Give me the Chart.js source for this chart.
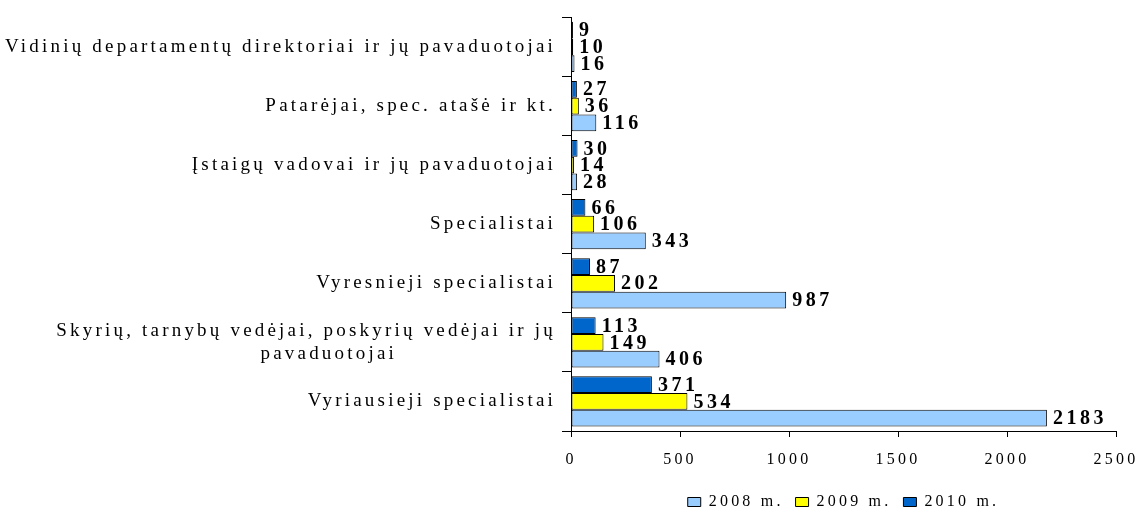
<!DOCTYPE html>
<html lang="lt">
<head>
<meta charset="UTF-8">
<title>Darbuotojai pagal pareigas</title>
<script src="https://cdn.jsdelivr.net/npm/chart.js"></script>
<style>
    html, body { margin: 0; padding: 0; background: #fff; }
    .wrap { width: 1142px; height: 510px; position: relative; }
</style>
</head>
<body>
<div class="wrap"><canvas id="grafikas"></canvas></div>
<script>
const kategorijos = [
    'Vidinių departamentų direktoriai ir jų pavaduotojai',
    'Patarėjai, spec. atašė ir kt.',
    'Įstaigų vadovai ir jų pavaduotojai',
    'Specialistai',
    'Vyresnieji specialistai',
    ['Skyrių, tarnybų vedėjai, poskyrių vedėjai ir jų', 'pavaduotojai'],
    'Vyriausieji specialistai'
];
const metai2008 = [16, 116, 28, 343, 987, 406, 2183];
const metai2009 = [10, 36, 14, 106, 202, 149, 534];
const metai2010 = [9, 27, 30, 66, 87, 113, 371];
const xMax = 2500;
const xZingsnis = 500;

const serif = '"Liberation Serif", "Times New Roman", serif';
Chart.defaults.font.family = serif;
Chart.defaults.color = '#000';

// tekstas originale gana "isretintas"
const tarpai = {
    id: 'tarpai',
    beforeUpdate(c) { c.ctx.letterSpacing = '3.2px'; },
    beforeDraw(c) { c.ctx.letterSpacing = '3.2px'; }
};

const reiksmes = {
    id: 'reiksmes',
    afterDatasetsDraw(c) {
        const ctx = c.ctx;
        ctx.save();
        ctx.font = 'bold 20px ' + serif;
        ctx.fillStyle = '#000';
        ctx.textAlign = 'left';
        ctx.textBaseline = 'middle';
        ctx.letterSpacing = '3.5px';
        c.data.datasets.forEach((ds, i) => {
            c.getDatasetMeta(i).data.forEach((el, j) => {
                ctx.fillText(String(ds.data[j]), el.x + 6, el.y + 1);
            });
        });
        ctx.restore();
    }
};

new Chart(document.getElementById('grafikas'), {
    type: 'bar',
    data: {
        labels: kategorijos,
        datasets: [
            { label: '2010 m.', data: metai2010, backgroundColor: '#0066CC' },
            { label: '2009 m.', data: metai2009, backgroundColor: '#FFFF00' },
            { label: '2008 m.', data: metai2008, backgroundColor: '#99CCFF' }
        ]
    },
    options: {
        indexAxis: 'y',
        responsive: true,
        maintainAspectRatio: false,
        animation: false,
        layout: { padding: { top: 15, right: 26, bottom: -10, left: 0 } },
        datasets: {
            bar: {
                borderColor: '#000',
                borderWidth: 1,
                borderSkipped: false,
                categoryPercentage: 0.85,
                barPercentage: 1
            }
        },
        scales: {
            y: {
                grid: { drawOnChartArea: false, tickLength: 9, color: '#000', offset: true },
                border: { color: '#000' },
                ticks: {
                    autoSkip: false,
                    padding: 6,
                    font: { size: 19 },
                    callback: function (v) {
                        const l = this.getLabelForValue(v);
                        if (Array.isArray(l)) {
                            // antra eilute centruojama po pirmaja
                            return [l[0], l[1] + '\u00a0'.repeat(20)];
                        }
                        return l;
                    }
                },
                afterFit(s) { s.width = 571; }
            },
            x: {
                min: 0,
                max: xMax,
                grid: { drawOnChartArea: false, tickLength: 6, color: '#000' },
                border: { color: '#000' },
                ticks: {
                    stepSize: xZingsnis,
                    padding: 13,
                    maxRotation: 0,
                    font: { size: 16 },
                    callback: v => String(v)
                },
                afterFit(s) {
                    s.height = 51;
                    s.paddingRight = 0;
                    s.paddingLeft = 0;
                }
            }
        },
        plugins: {
            tooltip: { enabled: false },
            legend: {
                position: 'bottom',
                fullSize: false,
                reverse: true,
                labels: {
                    boxWidth: 13,
                    boxHeight: 9,
                    padding: 12,
                    font: { size: 16 }
                }
            }
        }
    },
    plugins: [tarpai, reiksmes]
});
</script>
</body>
</html>
